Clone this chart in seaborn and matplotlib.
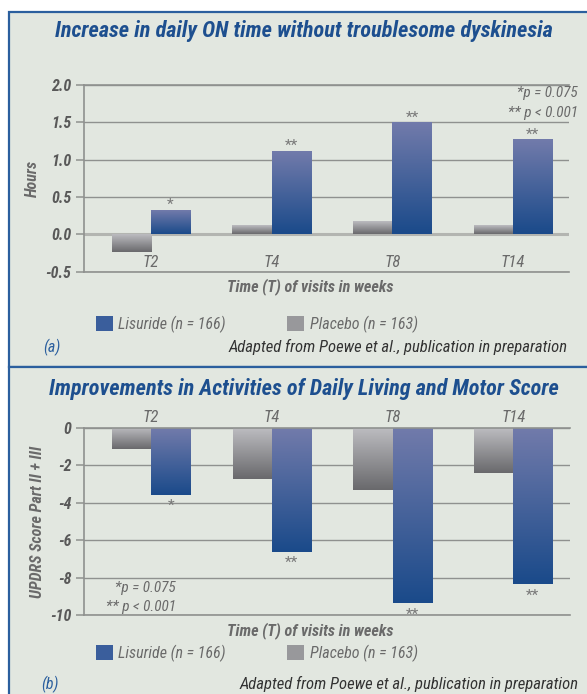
import numpy as np
import pandas as pd
import matplotlib
matplotlib.use('Agg')
import matplotlib.pyplot as plt
from matplotlib import font_manager
from matplotlib.colors import LinearSegmentedColormap
from matplotlib.patches import Rectangle, Patch
import seaborn as sns

# ---- data ----
visits = ['T2', 'T4', 'T8', 'T14']
groups = ['Placebo', 'Lisuride']
legend_labels = ['Lisuride (n = 166)', 'Placebo (n = 163)']

on_time_placebo = [-0.23, 0.11, 0.17, 0.11]
on_time_lisuride = [0.32, 1.11, 1.49, 1.26]
on_time_stars = ['*', '**', '**', '**']
on_time_ticks = [-0.5, 0.0, 0.5, 1.0, 1.5, 2.0]
on_time_ticklabels = ['-0.5', '0.0', '0.5', '1.0', '1.5', '2.0']

updrs_placebo = [-1.14, -2.71, -3.30, -2.39]
updrs_lisuride = [-3.57, -6.61, -9.37, -8.36]
updrs_stars = ['*', '**', '**', '**']
updrs_ticks = [-10, -8, -6, -4, -2, 0]
updrs_ticklabels = ['-10', '-8', '-6', '-4', '-2', '0']

# ---- style ----
BG = '#e2e7e0'
BORDER = '#2b5f9e'
TITLE = '#1d4f8f'
GREY_TXT = '#595959'
GRID = '#8f918f'
LIS_TOP, LIS_BOT = '#727bab', '#1a4a8a'
PLA_TOP, PLA_BOT = '#bcbcc0', '#69696c'

sns.set_theme(style='white')
names = {f.name for f in font_manager.fontManager.ttflist}
narrow = next((n for n in ['Liberation Sans Narrow', 'Roboto Condensed',
                           'Open Sans Condensed', 'Roboto'] if n in names), 'DejaVu Sans')
plt.rcParams['font.family'] = [narrow, 'DejaVu Sans']

W, H = 587, 694
def fx(px):
    return px / W
def fy(py):
    return 1 - py / H

fig = plt.figure(figsize=(5.87, 6.94), dpi=100, facecolor='white')

# panel frames
for top, bot in [(12, 367), (367, 720)]:
    fig.patches.append(Rectangle((fx(9), fy(bot)), fx(620) - fx(9), fy(top) - fy(bot),
                                 transform=fig.transFigure, facecolor=BG,
                                 edgecolor=BORDER, lw=1.6, zorder=-5))


def gradient_fill(ax, container, top_col, bot_col):
    cmap = LinearSegmentedColormap.from_list('g', [top_col, bot_col])
    grad = np.linspace(0, 1, 256).reshape(-1, 1)
    for p in container:
        x, w = p.get_x(), p.get_width()
        y0, y1 = sorted([p.get_y(), p.get_y() + p.get_height()])
        ax.imshow(grad, cmap=cmap, extent=[x, x + w, y0, y1], aspect='auto',
                  interpolation='bilinear', zorder=1.5)
        p.set_facecolor('none')
        p.set_edgecolor('none')


def draw_panel(ax, placebo, lisuride, stars, ticks, ticklabels, ylabel, xlim, labels_on_top):
    df = pd.DataFrame({
        'visit': visits * 2,
        'group': ['Placebo'] * 4 + ['Lisuride'] * 4,
        'value': placebo + lisuride,
    })
    sns.barplot(data=df, x='visit', y='value', hue='group', hue_order=groups,
                order=visits, width=0.65, errorbar=None, legend=False, ax=ax)
    gradient_fill(ax, ax.containers[0], PLA_TOP, PLA_BOT)
    gradient_fill(ax, ax.containers[1], LIS_TOP, LIS_BOT)

    ax.set_facecolor('none')
    ax.set_xlim(*xlim)
    ax.set_ylim(ticks[0], ticks[-1])
    ax.set_yticks(ticks)
    ax.set_yticklabels(ticklabels, fontsize=11.5, fontweight='bold', fontstyle='italic',
                       color=GREY_TXT)
    ax.set_xticks(range(len(visits)))
    ax.set_xticklabels(visits, fontsize=12, fontstyle='italic', color='#6a6a6a')
    ax.tick_params(axis='y', left=True, length=6, width=1.1, color=GRID, pad=3)
    if labels_on_top:
        ax.xaxis.tick_top()
        ax.tick_params(axis='x', top=False, bottom=False, length=0, pad=2)
    else:
        ax.tick_params(axis='x', bottom=False, length=0, pad=-12)
    ax.yaxis.grid(True, color=GRID, lw=1.0)
    ax.xaxis.grid(False)
    ax.set_axisbelow(True)
    for side in ['left', 'bottom', 'top']:
        ax.spines[side].set_visible(True)
        ax.spines[side].set_color(GRID)
        ax.spines[side].set_linewidth(1.2)
    ax.spines['right'].set_visible(False)
    ax.set_xlabel('')
    ax.set_ylabel(ylabel, fontsize=11.5, fontweight='bold', fontstyle='italic',
                  color='#6a6a6a', labelpad=4)

    for p, s, v in zip(ax.containers[1], stars, lisuride):
        xc = p.get_x() + p.get_width() / 2
        if v >= 0:
            ax.annotate(s, (xc, v), xytext=(0, 1), textcoords='offset points',
                        ha='center', va='baseline', fontsize=11, color='#7a7a7a')
        else:
            ax.annotate(s, (xc, v), xytext=(0, -3), textcoords='offset points',
                        ha='center', va='top', fontsize=11, color='#7a7a7a')


# ---- panel (a) ----
ax_a = fig.add_axes([fx(84), fy(271.7), fx(569) - fx(84), fy(85) - fy(271.7)])
draw_panel(ax_a, on_time_placebo, on_time_lisuride, on_time_stars, on_time_ticks,
           on_time_ticklabels, 'Hours', (-0.555, 3.464), False)
ax_a.axhline(0, color='#b3b5b1', lw=2.2, zorder=1.0)

fig.text(0.517, fy(31), 'Increase in daily ON time without troublesome dyskinesia',
         ha='center', va='center', fontsize=16, fontweight='bold', fontstyle='italic', color=TITLE)
fig.text(fx(578), fy(93), '*p = 0.075', ha='right', va='center', fontsize=11,
         fontstyle='italic', color='#6a6a6a')
fig.text(fx(578), fy(113), '** p < 0.001', ha='right', va='center', fontsize=11,
         fontstyle='italic', color='#6a6a6a')
fig.text(fx(310), fy(287), 'Time (T) of visits in weeks', ha='center', va='center',
         fontsize=11.6, fontweight='bold', fontstyle='italic', color='#6a6a6a')
fig.text(fx(43), fy(347), '(a)', ha='left', va='center', fontsize=11.5,
         fontstyle='italic', color=BORDER)
fig.text(fx(568), fy(347), 'Adapted from Poewe et al., publication in preparation',
         ha='right', va='center', fontsize=12, fontstyle='italic', color='#333333')

# ---- panel (b) ----
ax_b = fig.add_axes([fx(84), fy(615), fx(570) - fx(84), fy(428) - fy(615)])
draw_panel(ax_b, updrs_placebo, updrs_lisuride, updrs_stars, updrs_ticks,
           updrs_ticklabels, 'UPDRS Score Part II + III', (-0.555, 3.47), True)

fig.text(0.517, fy(389), 'Improvements in Activities of Daily Living and Motor Score',
         ha='center', va='center', fontsize=16, fontweight='bold', fontstyle='italic', color=TITLE)
fig.text(fx(176), fy(588), '*p = 0.075', ha='right', va='center', fontsize=11,
         fontstyle='italic', color='#6a6a6a')
fig.text(fx(176), fy(607), '** p < 0.001', ha='right', va='center', fontsize=11,
         fontstyle='italic', color='#6a6a6a')
fig.text(fx(310), fy(631), 'Time (T) of visits in weeks', ha='center', va='center',
         fontsize=11.6, fontweight='bold', fontstyle='italic', color='#6a6a6a')
fig.text(fx(41), fy(684), '(b)', ha='left', va='center', fontsize=11.5,
         fontstyle='italic', color=BORDER)
fig.text(fx(579), fy(684), 'Adapted from Poewe et al., publication in preparation',
         ha='right', va='center', fontsize=12, fontstyle='italic', color='#333333')

# ---- legends ----
handles = [Patch(facecolor='#3a5e9c', edgecolor='none'),
           Patch(facecolor='#98989b', edgecolor='none')]
for ly in [324, 653]:
    leg = fig.legend(handles, legend_labels, loc='center left',
                     bbox_to_anchor=(fx(96), fy(ly)), ncol=2, frameon=False,
                     borderpad=0, borderaxespad=0, handlelength=1.05, handleheight=1.05,
                     handletextpad=0.35, columnspacing=3.85,
                     prop={'size': 11.5, 'style': 'italic'})
    for t in leg.get_texts():
        t.set_color('#6a6a6a')

fig.savefig('out.png', dpi=100)
